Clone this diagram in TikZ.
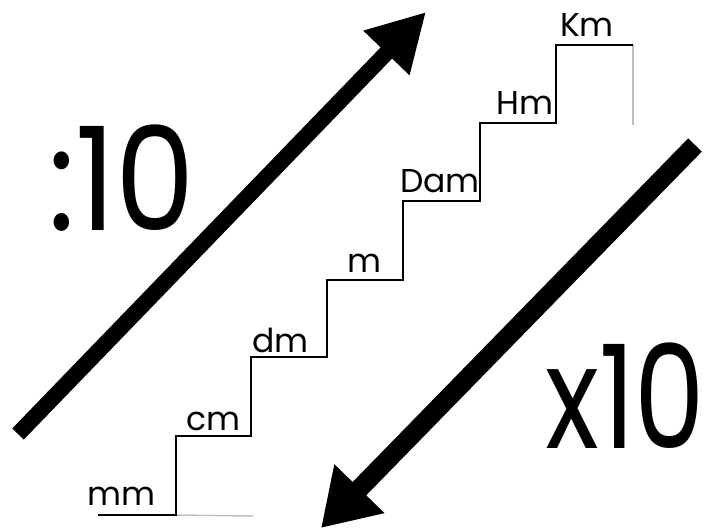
\documentclass[tikz,border=0pt]{standalone}
\usepackage{fontspec}
\setmainfont{Poppins}
\usetikzlibrary{arrows.meta}
\tikzset{
  stair/.style={line width=2pt, black, line join=miter},
  faint/.style={line width=1.5pt, black!25},
  unitlbl/.style={inner sep=0pt, font=\fontsize{33}{33}\selectfont},
  bigarrow/.style={line width=#1, black},
  biglbl/.style={inner sep=0pt, anchor=base west}
}
\begin{document}
\begin{tikzpicture}[x=1pt,y=-1pt]
\useasboundingbox (0,0) rectangle (708,529);
\clip (0,0) rectangle (708,529);
% stair corners
\coordinate (s0) at (98,515);
\coordinate (s1) at (176,515);
\coordinate (s2) at (176,436);
\coordinate (s3) at (251,436);
\coordinate (s4) at (251,357);
\coordinate (s5) at (327,357);
\coordinate (s6) at (327,280);
\coordinate (s7) at (403,280);
\coordinate (s8) at (403,201);
\coordinate (s9) at (480,201);
\coordinate (s10) at (480,123);
\coordinate (s11) at (556,123);
\coordinate (s12) at (556,45);
\coordinate (s13) at (633,45);
\coordinate (g1) at (253,516);
\coordinate (g2) at (633,125);
\draw[faint] (s1) -- (g1);
\draw[faint] (s13) -- (g2);
\draw[stair] (s0) -- (s1) -- (s2) -- (s3) -- (s4) -- (s5) -- (s6) -- (s7) -- (s8) -- (s9) -- (s10) -- (s11) -- (s12) -- (s13);
% labels
\node[unitlbl, anchor=base east] (mm) at (156,505) {mm};
\node[unitlbl, anchor=base east] (cm) at (241,430) {cm};
\node[unitlbl, anchor=base east] (dm) at (309,352) {dm};
\node[unitlbl, anchor=base east] (m) at (382,272) {m};
\node[unitlbl, anchor=base east] (Dam) at (480,193) {Dam};
\node[unitlbl, anchor=base east] (Hm) at (554,115) {Hm};
\node[unitlbl, anchor=base east] (Km) at (614,37) {Km};
% big labels
\node[biglbl] (div) at (48,230) {\fontsize{144}{144}\selectfont\scalebox{0.88}[1]{:10}};
\node[biglbl] (mul) at (545,448) {\fontsize{144}{144}\selectfont\scalebox{0.78}[1]{x10}};
% arrows
\coordinate (a1s) at (18,434);
\coordinate (a1e) at (426,12);
\coordinate (a2s) at (695,145);
\coordinate (a2e) at (321,528);
\draw[bigarrow=16pt, -{Triangle[length=57pt,width=60pt]}] (a1s) -- (a1e);
\draw[bigarrow=19pt, -{Triangle[length=55pt,width=66pt]}] (a2s) -- (a2e);
\end{tikzpicture}
\end{document}
